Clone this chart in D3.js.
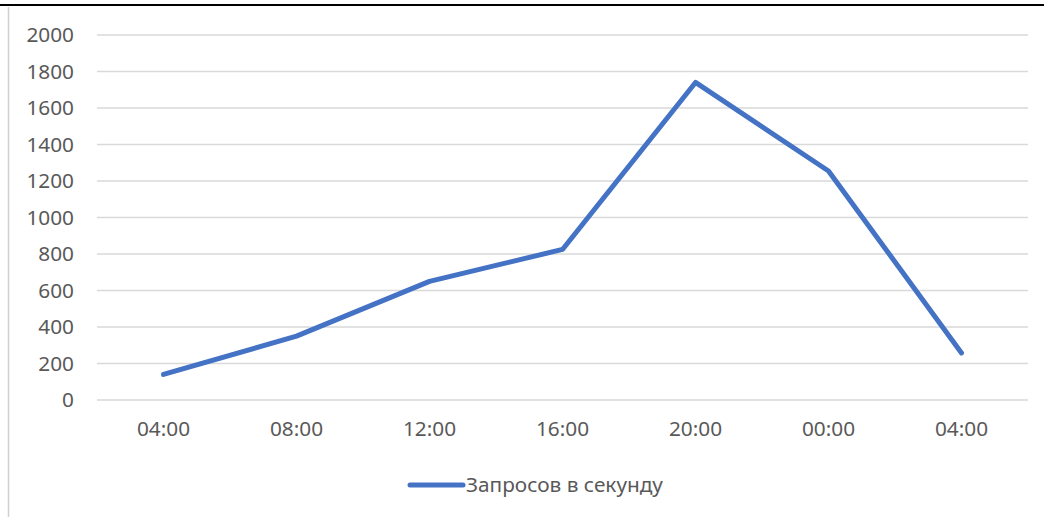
<!DOCTYPE html>
<html>
<head>
<meta charset="utf-8">
<script src="https://cdn.jsdelivr.net/npm/d3@7"></script>
<style>
  html, body { margin: 0; padding: 0; background: #fff; }
  svg { display: block; }
</style>
</head>
<body>
<svg id="chart" width="1044" height="517"></svg>
<script>
// Requests per second over a day
const hours = ["04:00", "08:00", "12:00", "16:00", "20:00", "00:00", "04:00 "];
const requestsPerSecond = [140, 350, 650, 825, 1740, 1255, 258];
const yTicks = [0, 200, 400, 600, 800, 1000, 1200, 1400, 1600, 1800, 2000];
const seriesName = "Запросов в секунду";

const svg = d3.select("#chart");
const font = "'Noto Sans', 'Open Sans', sans-serif";
const fontSize = 20.8;
const textColor = "#595959";
const lineColor = "#4472C4";

const plot = { left: 97, right: 1028, top: 35, bottom: 400 };

const x = d3.scaleBand().domain(hours).range([plot.left, plot.right]).padding(0);
const y = d3.scaleLinear().domain([0, 2000]).range([plot.bottom, plot.top]);

// page frame: rule at top, light border on the left
svg.append("line")
  .attr("x1", 0).attr("x2", 1044).attr("y1", 5).attr("y2", 5)
  .attr("stroke", "#000").attr("stroke-width", 2);
svg.append("line")
  .attr("x1", 8.5).attr("x2", 8.5).attr("y1", 7).attr("y2", 517)
  .attr("stroke", "#d0d0d0").attr("stroke-width", 1.5);

// horizontal gridlines
svg.append("g")
  .selectAll("line")
  .data(yTicks)
  .join("line")
  .attr("x1", plot.left).attr("x2", plot.right)
  .attr("y1", d => y(d)).attr("y2", d => y(d))
  .attr("stroke", "#d9d9d9").attr("stroke-width", 1.5);

// y axis labels
const yAxis = d3.axisLeft(y).tickValues(yTicks).tickSize(0).tickPadding(0).tickFormat(d3.format("d"));
const gy = svg.append("g").attr("transform", "translate(74,0)").call(yAxis);
gy.select(".domain").remove();
gy.selectAll("text")
  .attr("font-family", font).attr("font-size", fontSize).attr("fill", textColor);

// x axis labels
const xAxis = d3.axisBottom(x).tickSize(0).tickPadding(0).tickFormat(d => d.trim());
const gx = svg.append("g").attr("transform", "translate(0,421)").call(xAxis);
gx.select(".domain").remove();
gx.selectAll("text")
  .attr("font-family", font).attr("font-size", fontSize).attr("fill", textColor);

// series line
const line = d3.line()
  .x((d, i) => x(hours[i]) + x.bandwidth() / 2)
  .y(d => y(d));
svg.append("path")
  .datum(requestsPerSecond)
  .attr("d", line)
  .attr("fill", "none")
  .attr("stroke", lineColor)
  .attr("stroke-width", 5)
  .attr("stroke-linecap", "round")
  .attr("stroke-linejoin", "round");

// legend
const legend = svg.append("g").attr("transform", "translate(410,485)");
legend.append("line")
  .attr("x1", 0).attr("x2", 53).attr("y1", 0).attr("y2", 0)
  .attr("stroke", lineColor).attr("stroke-width", 5).attr("stroke-linecap", "round");
legend.append("text")
  .attr("x", 56).attr("y", 0).attr("dy", "0.35em")
  .attr("font-family", font).attr("font-size", fontSize).attr("fill", textColor)
  .text(seriesName);
</script>
</body>
</html>
